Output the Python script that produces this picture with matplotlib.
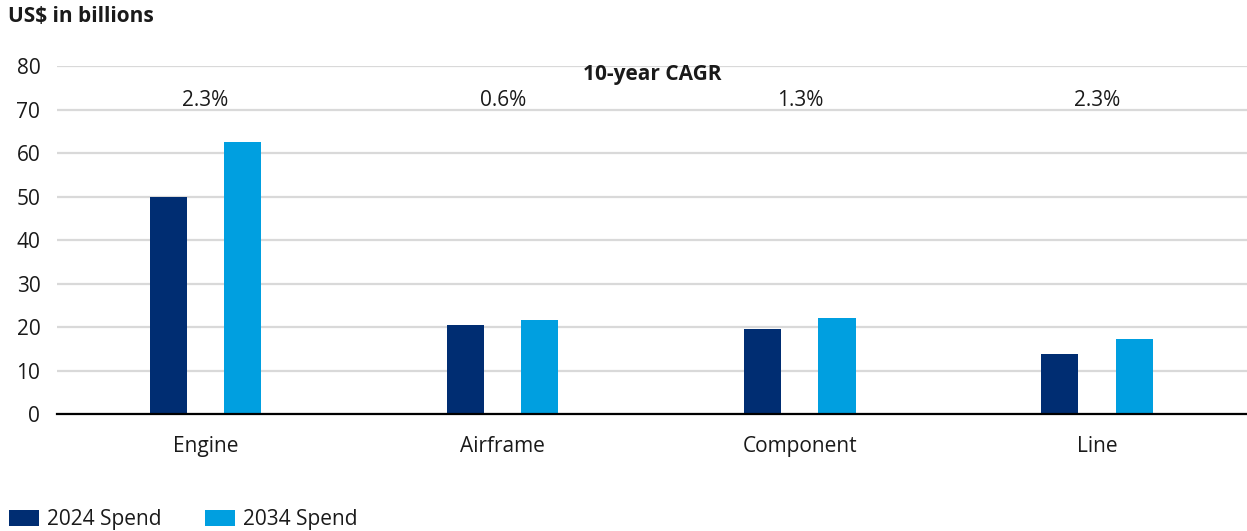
import numpy as np
import matplotlib.pyplot as plt
from matplotlib.patches import Patch

plt.rcParams["font.family"] = ["Open Sans", "DejaVu Sans"]

# Data (US$ billions)
categories = ["Engine", "Airframe", "Component", "Line"]
spend_2024 = [49.8, 20.5, 19.5, 13.8]
spend_2034 = [62.5, 21.6, 22.1, 17.3]
cagr_labels = ["2.3%", "0.6%", "1.3%", "2.3%"]
yticks = [0, 10, 20, 30, 40, 50, 60, 70, 80]

DARK = "#002d72"
LIGHT = "#009fe0"
GRID = "#d9d9d9"
TEXT = "#1a1a1a"
FS = 15

BAR_W = 0.125

fig = plt.figure(figsize=(12.47, 5.31), dpi=100, facecolor="white")
ax = fig.add_axes([0.0457, 0.2203, 0.9543, 0.6554])

x = np.arange(len(categories))
ax.bar(x - BAR_W, spend_2024, width=BAR_W, color=DARK, zorder=3)
ax.bar(x + BAR_W, spend_2034, width=BAR_W, color=LIGHT, zorder=3)

ax.set_xlim(-0.5, 3.505)
ax.set_ylim(0, 80)
ax.set_yticks(yticks)
ax.set_xticks(x)
ax.set_xticklabels(categories)
ax.tick_params(axis="both", length=0, labelsize=FS, colors=TEXT)
ax.tick_params(axis="x", pad=16)
ax.tick_params(axis="y", pad=12)

ax.grid(axis="y", color=GRID, linewidth=1.6, zorder=0)
for side in ["top", "right", "left"]:
    ax.spines[side].set_visible(False)
ax.spines["bottom"].set_color("black")
ax.spines["bottom"].set_linewidth(1.6)
ax.spines["bottom"].set_zorder(4)

# CAGR header and values above each group
ax.text(np.mean(x) + 0.0025, 78.0, "10-year CAGR", ha="center", va="center",
        fontsize=FS, fontweight="bold", color=TEXT)
for xi, lab in zip(x, cagr_labels):
    ax.text(xi, 72.0, lab, ha="center", va="center", fontsize=FS, color=TEXT)

fig.text(0.0064, 0.968, "US$ in billions", ha="left", va="center",
         fontsize=FS, fontweight="bold", color=TEXT)

handles = [Patch(facecolor=DARK, label="2024 Spend"),
           Patch(facecolor=LIGHT, label="2034 Spend")]
fig.legend(handles=handles, loc="lower left", bbox_to_anchor=(-0.008, -0.034),
           ncol=2, frameon=False, fontsize=FS, handlelength=1.45,
           handleheight=0.85, columnspacing=2.05, handletextpad=0.4,
           labelcolor=TEXT)

fig.savefig("out.png", dpi=100, facecolor="white")
